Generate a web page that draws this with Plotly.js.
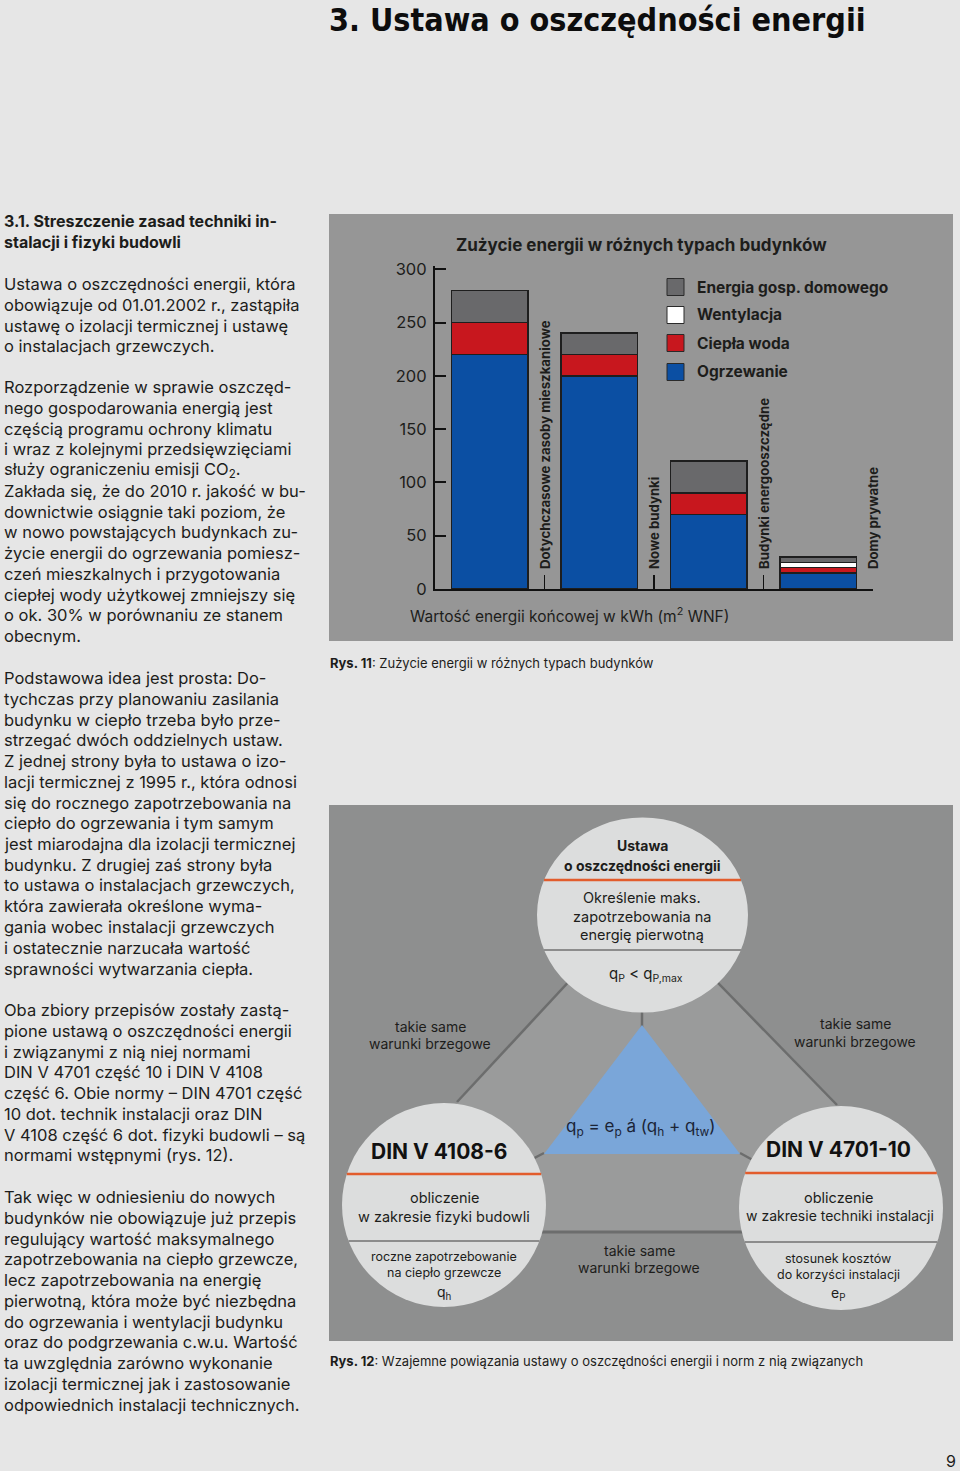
<!DOCTYPE html>
<html>
<head>
<meta charset="utf-8">
<script src="https://cdn.plot.ly/plotly-3.0.1.min.js"></script>
<style>html,body{margin:0;padding:0;background:#e6e6e6;}#chart{width:960px;height:1471px;}</style>
</head>
<body>
<div id="chart"></div>
<script>
// ---------- DATA ----------
const categories = ["Dotychczasowe zasoby mieszkaniowe", "Nowe budynki", "Budynki energooszczędne", "Domy prywatne"];
const seriesNames = ["Ogrzewanie", "Ciepła woda", "Wentylacja", "Energia gosp. domowego"];
const ogrzewanie = [220, 200, 70, 15];
const cieplaWoda = [30, 20, 20, 5];
const wentylacja = [0, 0, 0, 5];
const energiaGosp = [30, 20, 30, 5];
const yTickVals = [0, 50, 100, 150, 200, 250, 300];
const chartTitle = "Zużycie energii w różnych typach budynków";
const xAxisTitle = "Wartość energii końcowej w kWh (m<sup>2</sup> WNF)";

// ---------- HELPERS ----------
const W = 960, H = 1471;
const X = p => p / W;
const Y = p => 1 - p / H;
const FONT = "Inter, 'Liberation Sans', Arial, sans-serif";
const TXT = "#1d1d1b";
const shapes = [];
const annotations = [];

function rect(x0, y0, x1, y1, fill, layer, line) {
  shapes.push({type: 'rect', xref: 'paper', yref: 'paper', x0: X(x0), x1: X(x1), y0: Y(y1), y1: Y(y0),
    fillcolor: fill, line: line || {width: 0}, layer: layer || 'above'});
}
function seg(x0, y0, x1, y1, color, w) {
  shapes.push({type: 'line', xref: 'paper', yref: 'paper', x0: X(x0), y0: Y(y0), x1: X(x1), y1: Y(y1),
    line: {color: color, width: w}, layer: 'above'});
}
function ellipse(cx, cy, rx, ry, fill) {
  shapes.push({type: 'circle', xref: 'paper', yref: 'paper', x0: X(cx - rx), x1: X(cx + rx), y0: Y(cy + ry), y1: Y(cy - ry),
    fillcolor: fill, line: {width: 0}, layer: 'above'});
}
function poly(pts, fill) {
  const d = pts.map((p, i) => (i ? 'L' : 'M') + X(p[0]).toFixed(5) + ',' + Y(p[1]).toFixed(5)).join(' ') + ' Z';
  shapes.push({type: 'path', xref: 'paper', yref: 'paper', path: d, fillcolor: fill, line: {width: 0}, layer: 'above'});
}
function chordHalf(rx, ry, dy) { return rx * Math.sqrt(Math.max(0, 1 - (dy / ry) * (dy / ry))); }
function txt(text, x, y, size, opts) {
  opts = opts || {};
  annotations.push(Object.assign({
    text: text, xref: 'paper', yref: 'paper', x: X(x), y: Y(y), showarrow: false,
    xanchor: 'center', yanchor: 'middle', borderpad: 0,
    font: {family: FONT, size: size, color: TXT, weight: opts.bold ? 700 : 400}
  }, opts.extra || {}));
}

// ---------- PAGE TITLE ----------
annotations.push({text: "3. Ustawa o oszczędności energii", xref: 'paper', yref: 'paper', x: X(328), y: Y(0),
  xanchor: 'left', yanchor: 'top', showarrow: false, borderpad: 0,
  font: {family: "'Liberation Sans Narrow', 'DejaVu Sans Condensed', 'Liberation Sans', sans-serif", size: 32, color: '#0d0d0d', weight: 700}});

// ---------- LEFT COLUMN ----------
const LH = 20.75;
const paragraphs = [
  {y: 221, bold: true, lines: ["3.1. Streszczenie zasad techniki in-", "stalacji i fizyki budowli"]},
  {y: 284, lines: ["Ustawa o oszczędności energii, która", "obowiązuje od 01.01.2002 r., zastąpiła", "ustawę o izolacji termicznej i ustawę", "o instalacjach grzewczych."]},
  {y: 387, lines: ["Rozporządzenie w sprawie oszczęd-", "nego gospodarowania energią jest", "częścią programu ochrony klimatu", "i wraz z kolejnymi przedsięwzięciami", "służy ograniczeniu emisji CO<sub>2</sub>.", "Zakłada się, że do 2010 r. jakość w bu-", "downictwie osiągnie taki poziom, że", "w nowo powstających budynkach zu-", "życie energii do ogrzewania pomiesz-", "czeń mieszkalnych i przygotowania", "ciepłej wody użytkowej zmniejszy się", "o ok. 30% w porównaniu ze stanem", "obecnym."]},
  {y: 678, lines: ["Podstawowa idea jest prosta: Do-", "tychczas przy planowaniu zasilania", "budynku w ciepło trzeba było prze-", "strzegać dwóch oddzielnych ustaw.", "Z jednej strony była to ustawa o izo-", "lacji termicznej z 1995 r., która odnosi", "się do rocznego zapotrzebowania na", "ciepło do ogrzewania i tym samym", "jest miarodajna dla izolacji termicznej", "budynku. Z drugiej zaś strony była", "to ustawa o instalacjach grzewczych,", "która zawierała określone wyma-", "gania wobec instalacji grzewczych", "i ostatecznie narzucała wartość", "sprawności wytwarzania ciepła."]},
  {y: 1010, lines: ["Oba zbiory przepisów zostały zastą-", "pione ustawą o oszczędności energii", "i związanymi z nią niej normami", "DIN V 4701 część 10 i DIN V 4108", "część 6. Obie normy – DIN 4701 część", "10 dot. technik instalacji oraz DIN", "V 4108 część 6 dot. fizyki budowli – są", "normami wstępnymi (rys. 12)."]},
  {y: 1197, lines: ["Tak więc w odniesieniu do nowych", "budynków nie obowiązuje już przepis", "regulujący wartość maksymalnego", "zapotrzebowania na ciepło grzewcze,", "lecz zapotrzebowania na energię", "pierwotną, która może być niezbędna", "do ogrzewania i wentylacji budynku", "oraz do podgrzewania c.w.u. Wartość", "ta uwzględnia zarówno wykonanie", "izolacji termicznej jak i zastosowanie", "odpowiednich instalacji technicznych."]}
];
paragraphs.forEach(p => {
  p.lines.forEach((l, i) => {
    txt(l, 3, p.y + i * LH, p.bold ? 16 : 16.5, {bold: !!p.bold, extra: {xanchor: 'left'}});
  });
});

// ---------- CHART BOX ----------
rect(329, 214, 953, 641, '#969696', 'below');

// legend (manual, from series names)
const colors = {"Ogrzewanie": '#0b4fa3', "Ciepła woda": '#c8171e', "Wentylacja": '#ffffff', "Energia gosp. domowego": '#69696b'};
const legendOrder = seriesNames.slice().reverse();
const legendY = [287, 315, 343, 372];
legendOrder.forEach((n, i) => {
  rect(667, legendY[i] - 8.5, 684, legendY[i] + 8.5, colors[n], 'above', {color: '#2a2a2a', width: 1});
  txt(n, 696, legendY[i], 15.5, {bold: true, extra: {xanchor: 'left'}});
});

// axis title + captions
txt(xAxisTitle, 409, 615, 15.5, {extra: {xanchor: 'left'}});
txt("<b>Rys. 11</b>: Zużycie energii w różnych typach budynków", 329, 663, 13, {extra: {xanchor: 'left'}});

// category labels (rotated)
categories.forEach((c, i) => {
  annotations.push({text: c, xref: 'x', yref: 'y', x: i + 0.5, y: 0, yshift: 19, textangle: -90,
    xanchor: 'center', yanchor: 'bottom', showarrow: false, borderpad: 0,
    font: {family: FONT, size: 13.2, color: TXT, weight: 700}});
});

// ---------- DIAGRAM ----------
rect(329, 805, 953, 1341, '#8e8f8f', 'above');
poly([[600, 948], [552, 1000], [457, 1102], [444, 1205], [444, 1232], [841, 1232], [841, 1208], [837, 1105], [735, 1000], [684, 948]], '#9a9b9b');
const LC = '#6c6d6d';
seg(600, 948, 457, 1102, LC, 2.5);
seg(684, 948, 837, 1105, LC, 2.5);
seg(444, 1232, 841, 1232, LC, 3);
seg(642, 990, 642, 1030, LC, 2.5);
seg(544, 1153, 444, 1205, LC, 2.5);
seg(740, 1153, 841, 1208, LC, 2.5);
poly([[642, 1025], [544, 1154], [740, 1154]], '#7aa6d9');

const CF = '#dcdddd', OR = '#e25c2c', GR = '#8c8c8c';
// top ellipse
const tc = {x: 642.5, y: 915, rx: 105.5, ry: 97.5};
ellipse(tc.x, tc.y, tc.rx, tc.ry, CF);
[[880, OR, 2.5], [950, GR, 2]].forEach(a => { const h = chordHalf(tc.rx, tc.ry, a[0] - tc.y); seg(tc.x - h, a[0], tc.x + h, a[0], a[1], a[2]); });
txt("Ustawa", 642, 846, 14, {bold: true});
txt("o oszczędności energii", 642, 865, 14, {bold: true});
txt("Określenie maks.", 642, 897, 14.5);
txt("zapotrzebowania na", 642, 916, 14.5);
txt("energię pierwotną", 642, 935, 14.5);
txt("q<sub>P</sub> < q<sub>P,max</sub>", 646, 974, 15);

// left circle
const lc = {x: 444, y: 1205, r: 102};
ellipse(lc.x, lc.y, lc.r, lc.r, CF);
[[1174, OR, 2.5], [1241, GR, 2]].forEach(a => { const h = chordHalf(lc.r, lc.r, a[0] - lc.y); seg(lc.x - h, a[0], lc.x + h, a[0], a[1], a[2]); });
txt("DIN V 4108-6", 439, 1151, 21, {bold: true, extra: {font: {family: FONT, size: 21, color: '#111', weight: 700}}});
txt("obliczenie", 444, 1197, 14.5);
txt("w zakresie fizyki budowli", 444, 1216, 14.5);
txt("roczne zapotrzebowanie", 444, 1256, 12.5);
txt("na ciepło grzewcze", 444, 1272, 12.5);
txt("q<sub>h</sub>", 444, 1292, 14);

// right circle
const rc = {x: 841, y: 1208, r: 102};
ellipse(rc.x, rc.y, rc.r, rc.r, CF);
[[1173, OR, 2.5], [1242, GR, 2]].forEach(a => { const h = chordHalf(rc.r, rc.r, a[0] - rc.y); seg(rc.x - h, a[0], rc.x + h, a[0], a[1], a[2]); });
txt("DIN V 4701-10", 838, 1149, 21, {bold: true, extra: {font: {family: FONT, size: 21, color: '#111', weight: 700}}});
txt("obliczenie", 838, 1197, 14.5);
txt("w zakresie techniki instalacji", 840, 1215, 14);
txt("stosunek kosztów", 838, 1258, 12.5);
txt("do korzyści instalacji", 838, 1274, 12.5);
txt("e<sub>P</sub>", 838, 1293, 14);

// side texts
txt("takie same", 430, 1026, 14);
txt("warunki brzegowe", 430, 1043, 14);
txt("takie same", 855, 1024, 14);
txt("warunki brzegowe", 855, 1041, 14);
txt("takie same", 639, 1250, 14);
txt("warunki brzegowe", 639, 1267, 14);
txt("q<sub>p</sub> = e<sub>p</sub> á (q<sub>h</sub> + q<sub>tw</sub>)", 641, 1127, 17, {extra: {font: {family: FONT, size: 17, color: '#1b2436'}}});

txt("<b>Rys. 12</b>: Wzajemne powiązania ustawy o oszczędności energii i norm z nią związanych", 329, 1361, 13, {extra: {xanchor: 'left'}});
txt("9", 957, 1461, 16, {extra: {xanchor: 'right'}});

// ---------- TRACES ----------
const xIdx = categories.map((c, i) => i);
const seriesVals = [ogrzewanie, cieplaWoda, wentylacja, energiaGosp];
const traces = seriesNames.map((n, k) => ({
  type: 'bar', name: n, x: xIdx, y: seriesVals[k], width: 0.7,
  marker: {color: colors[n], line: {color: '#1e1e1e', width: 1.5}},
  hoverinfo: 'skip'
}));

const layout = {
  width: W, height: H,
  margin: {l: 0, r: 0, t: 0, b: 0},
  paper_bgcolor: '#e6e6e6', plot_bgcolor: 'rgba(0,0,0,0)',
  barmode: 'stack', showlegend: false,
  title: {text: chartTitle, x: X(456), xanchor: 'left', xref: 'paper', y: Y(245), yanchor: 'middle', yref: 'paper',
    font: {family: FONT, size: 17, color: TXT, weight: 700}},
  xaxis: {domain: [X(435), X(873)], range: [-0.5, 3.5], showline: true, linecolor: '#111', linewidth: 2,
    ticks: 'inside', tickvals: [0.5, 1.5, 2.5, 3.5], ticklen: 14, tickwidth: 1.5, tickcolor: '#111',
    showticklabels: false, showgrid: false, zeroline: false, fixedrange: true},
  yaxis: {domain: [Y(589), Y(266)], range: [0, 303], showline: true, linecolor: '#111', linewidth: 2,
    ticks: 'inside', tickvals: yTickVals, ticklen: 11, tickwidth: 2, tickcolor: '#111', ticklabelstandoff: 3,
    tickfont: {family: FONT, size: 16.5, color: TXT}, showgrid: false, zeroline: false, fixedrange: true},
  shapes: shapes,
  annotations: annotations
};

Plotly.newPlot('chart', traces, layout, {staticPlot: true, displayModeBar: false});
</script>
</body>
</html>
